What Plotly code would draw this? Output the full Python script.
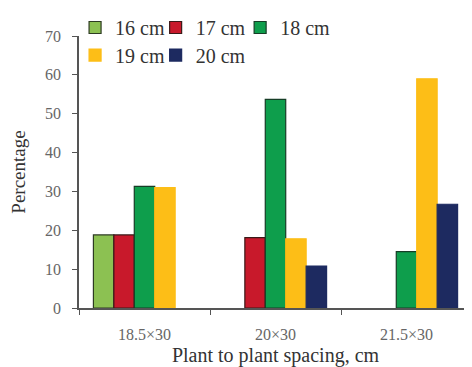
import plotly.graph_objects as go

categories = ["18.5×30", "20×30", "21.5×30"]
series_names = ["16 cm", "17 cm", "18 cm", "19 cm", "20 cm"]
v16 = [18.8, None, None]
v17 = [18.8, 18.1, None]
v18 = [31.3, 53.7, 14.5]
v19 = [31.0, 17.8, 59.0]
v20 = [None, 10.8, 26.7]
colors = ["#8cc152", "#c8192b", "#0e9e4c", "#fdbe17", "#1d2a60"]
outlines = ["#2d3b22", "#3a1a18", "#163d26", "#fdbe17", "#1d2a60"]
legend_ids = ["legend", "legend2", "legend3", "legend4", "legend5"]
# legend anchor positions (paper coords)
legend_pos = [(-0.01, 1.033), (0.195, 1.033), (0.41, 1.033), (-0.01, 0.93), (0.195, 0.93)]

fig = go.Figure()
for name, vals, c, oc, lg in zip(series_names, [v16, v17, v18, v19, v20], colors, outlines, legend_ids):
    fig.add_trace(go.Bar(x=categories, y=vals, name=name, marker_color=c,
                         marker_line=dict(color=oc, width=1.2), legend=lg))

font = "Liberation Serif, DejaVu Serif, serif"
legends = {}
for lg, (lx, ly) in zip(legend_ids, legend_pos):
    legends[lg] = dict(x=lx, y=ly, xanchor="left", yanchor="middle",
                       font=dict(size=20, color="#333", family=font),
                       bgcolor="rgba(0,0,0,0)", itemwidth=30)

fig.update_layout(
    width=464, height=359,
    margin=dict(l=71, r=0, t=23, b=59),
    plot_bgcolor="white", paper_bgcolor="white",
    barmode="group", bargap=0.22, bargroupgap=0,
    font=dict(family=font, color="#555"),
    showlegend=True,
    xaxis=dict(showline=True, linecolor="#555", linewidth=1.5, ticks="outside",
               tickson="boundaries", ticklen=5, tickcolor="#555", automargin=False,
               ticklabelstandoff=11,
               tickfont=dict(size=16, color="#666"),
               title=dict(text="Plant to plant spacing, cm", font=dict(size=20, color="#333"), standoff=12)),
    yaxis=dict(range=[0, 70], dtick=10, showline=True, linecolor="#555", linewidth=1.5,
               ticks="outside", ticklen=5, tickcolor="#555", showgrid=False, zeroline=False,
               automargin=False, ticklabelstandoff=8,
               tickfont=dict(size=16, color="#666"),
               title=dict(text="Percentage", font=dict(size=19, color="#333"), standoff=20)),
    **legends,
)
fig.write_html("out.html")
